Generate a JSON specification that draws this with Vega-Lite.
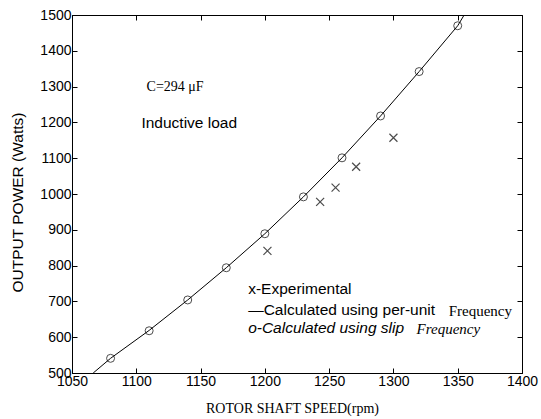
{
  "$schema": "https://vega.github.io/schema/vega-lite/v6.json",
  "width": 450,
  "height": 358,
  "autosize": "none",
  "padding": {"left": 72, "top": 15, "right": 19, "bottom": 46},
  "background": "white",
  "config": {
    "view": {"stroke": "black", "strokeWidth": 1},
    "axis": {
      "grid": false,
      "domainColor": "black",
      "tickColor": "black",
      "labelColor": "black",
      "titleColor": "black",
      "tickSize": -5,
      "labelFont": "Liberation Sans",
      "labelFontSize": 14,
      "labelOverlap": false,
      "labelFlush": false,
      "titleFontWeight": "normal",
      "format": "d"
    }
  },
  "datasets": {
    "curve": [
      {"speed": 1066.5, "power": 500},
      {"speed": 1080, "power": 541},
      {"speed": 1110, "power": 619},
      {"speed": 1140, "power": 704},
      {"speed": 1170, "power": 794},
      {"speed": 1200, "power": 889},
      {"speed": 1230, "power": 992},
      {"speed": 1260, "power": 1101},
      {"speed": 1290, "power": 1218},
      {"speed": 1320, "power": 1342},
      {"speed": 1350, "power": 1470},
      {"speed": 1355, "power": 1500}
    ],
    "slip": [
      {"speed": 1080, "power": 541},
      {"speed": 1110, "power": 618},
      {"speed": 1140, "power": 704},
      {"speed": 1170, "power": 794},
      {"speed": 1200, "power": 889},
      {"speed": 1230, "power": 992},
      {"speed": 1260, "power": 1101},
      {"speed": 1290, "power": 1218},
      {"speed": 1320, "power": 1342},
      {"speed": 1350, "power": 1470}
    ],
    "experimental": [
      {"speed": 1202, "power": 841},
      {"speed": 1243, "power": 978},
      {"speed": 1255, "power": 1018},
      {"speed": 1271, "power": 1076},
      {"speed": 1300, "power": 1157}
    ]
  },
  "layer": [
    {
      "encoding": {
        "x": {
          "field": "speed", "type": "quantitative",
          "scale": {"domain": [1050, 1400], "nice": false, "zero": false},
          "axis": {
            "title": "ROTOR SHAFT SPEED(rpm)",
            "values": [1050, 1100, 1150, 1200, 1250, 1300, 1350, 1400],
            "format": "d",
            "labelOverlap": false,
            "labelFlush": false,
            "tickSize": -5,
            "labelPadding": 6,
            "titleFont": "Liberation Serif",
            "titleFontSize": 14,
            "titleX": 220,
            "titleY": 35,
            "titleBaseline": "middle"
          }
        },
        "y": {
          "field": "power", "type": "quantitative",
          "scale": {"domain": [500, 1500], "nice": false, "zero": false},
          "axis": {
            "title": "OUTPUT POWER (Watts)",
            "values": [500, 600, 700, 800, 900, 1000, 1100, 1200, 1300, 1400, 1500],
            "format": "d",
            "labelOverlap": false,
            "labelFlush": false,
            "labelBound": false,
            "tickSize": -5,
            "labelPadding": 6,
            "titleFont": "Liberation Sans",
            "titleFontSize": 15.5,
            "titleX": -55,
            "titleY": 187,
            "titleBaseline": "middle"
          }
        }
      },
      "layer": [
        {
          "data": {"name": "curve"},
          "mark": {"type": "line", "color": "black", "strokeWidth": 1, "clip": true}
        },
        {
          "data": {"name": "slip"},
          "mark": {"type": "point", "shape": "circle", "filled": false, "color": "black", "size": 64, "strokeWidth": 1}
        },
        {
          "data": {"name": "experimental"},
          "mark": {"type": "point", "shape": "M-1,-1L1,1M-1,1L1,-1", "filled": false, "color": "black", "size": 64, "strokeWidth": 1.2}
        },
        {
          "data": {"values": [
            {"speed": 1108, "power": 1298, "label": "C=294 μF"}
          ]},
          "mark": {"type": "text", "align": "left", "baseline": "middle", "font": "Liberation Serif", "fontSize": 14, "color": "black"},
          "encoding": {"text": {"field": "label"}}
        },
        {
          "data": {"values": [
            {"speed": 1104, "power": 1198, "label": "Inductive load"},
            {"speed": 1187, "power": 734, "label": "x-Experimental"},
            {"speed": 1187, "power": 676, "label": "—Calculated using per-unit"}
          ]},
          "mark": {"type": "text", "align": "left", "baseline": "middle", "font": "Liberation Sans", "fontSize": 15.5, "color": "black"},
          "encoding": {"text": {"field": "label"}}
        },
        {
          "data": {"values": [
            {"speed": 1187, "power": 626, "label": "o-Calculated using slip"}
          ]},
          "mark": {"type": "text", "align": "left", "baseline": "middle", "font": "Liberation Sans", "fontSize": 15.5, "fontStyle": "italic", "color": "black"},
          "encoding": {"text": {"field": "label"}}
        },
        {
          "data": {"values": [
            {"speed": 1343, "power": 674, "label": "Frequency"}
          ]},
          "mark": {"type": "text", "align": "left", "baseline": "middle", "font": "Liberation Serif", "fontSize": 15, "color": "black"},
          "encoding": {"text": {"field": "label"}}
        },
        {
          "data": {"values": [
            {"speed": 1318, "power": 624, "label": "Frequency"}
          ]},
          "mark": {"type": "text", "align": "left", "baseline": "middle", "font": "Liberation Serif", "fontSize": 15, "fontStyle": "italic", "color": "black"},
          "encoding": {"text": {"field": "label"}}
        }
      ]
    },
    {
      "data": {"name": "curve"},
      "mark": {"type": "point", "opacity": 0},
      "encoding": {
        "x": {
          "field": "speed", "type": "quantitative",
          "scale": {"domain": [1050, 1400], "nice": false, "zero": false},
          "axis": {"orient": "top", "title": null, "labels": false, "domain": false, "tickSize": -5, "values": [1050, 1100, 1150, 1200, 1250, 1300, 1350, 1400]}
        },
        "y": {
          "field": "power", "type": "quantitative",
          "scale": {"domain": [500, 1500], "nice": false, "zero": false},
          "axis": {"orient": "right", "title": null, "labels": false, "domain": false, "tickSize": -5, "values": [500, 600, 700, 800, 900, 1000, 1100, 1200, 1300, 1400, 1500]}
        }
      }
    }
  ],
  "resolve": {"scale": {"x": "independent", "y": "independent"}}
}
